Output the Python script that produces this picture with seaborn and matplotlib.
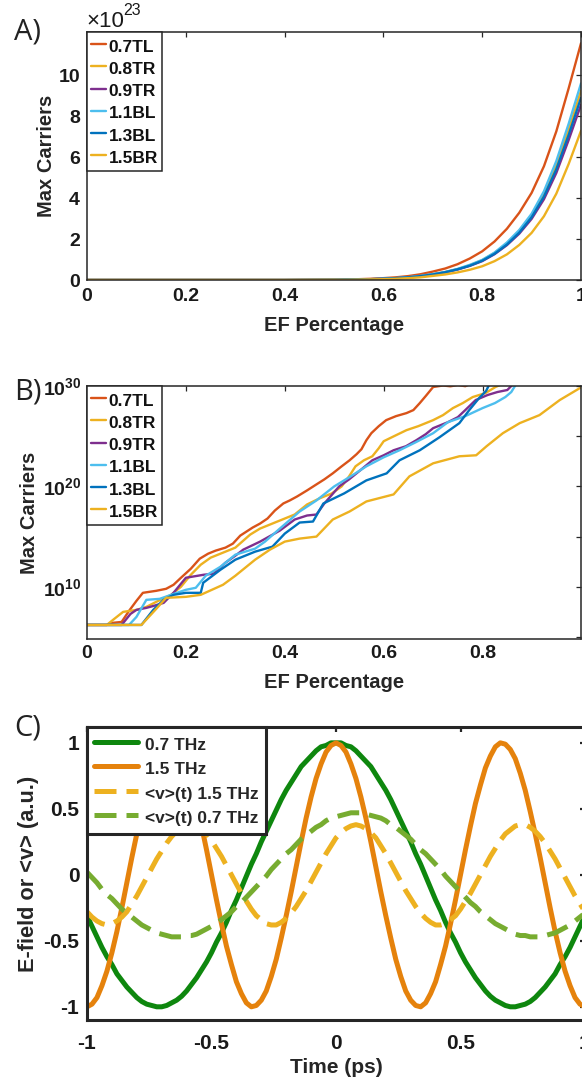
import numpy as np
import matplotlib
matplotlib.use("Agg")
import matplotlib.pyplot as plt
from matplotlib.ticker import NullLocator
import seaborn as sns

# ---------------- Panel A data (Max carriers, units of 1e23) ----------------
series_names = ["0.7TL", "0.8TR", "0.9TR", "1.1BL", "1.3BL", "1.5BR"]
series_colors = ["#D95319", "#EDB120", "#7E2F8E", "#4DBEEE", "#0072BD", "#EDB120"]

ef_a = [0.0, 0.1, 0.2, 0.3, 0.4, 0.5, 0.525, 0.55, 0.575, 0.6, 0.625, 0.65, 0.675,
        0.7, 0.725, 0.75, 0.775, 0.8, 0.825, 0.85, 0.875, 0.9, 0.925, 0.95, 0.975, 1.0]
a_07TL = [0, 0, 0, 0, 0, 0.02, 0.03, 0.04, 0.06, 0.09, 0.13, 0.19, 0.28, 0.41, 0.56,
          0.77, 1.05, 1.40, 1.88, 2.50, 3.28, 4.25, 5.55, 7.25, 9.35, 11.55]
a_08TR = [0, 0, 0, 0, 0, 0.01, 0.02, 0.03, 0.04, 0.06, 0.09, 0.13, 0.19, 0.28, 0.39,
          0.53, 0.72, 0.97, 1.32, 1.78, 2.38, 3.15, 4.19, 5.58, 7.34, 9.24]
a_09TR = [0, 0, 0, 0, 0, 0.01, 0.02, 0.03, 0.04, 0.06, 0.09, 0.13, 0.18, 0.27, 0.37,
          0.51, 0.69, 0.92, 1.26, 1.70, 2.26, 2.98, 3.94, 5.22, 6.83, 8.55]
a_11BL = [0, 0, 0, 0, 0, 0.01, 0.02, 0.03, 0.04, 0.06, 0.09, 0.13, 0.20, 0.29, 0.39,
          0.54, 0.74, 0.98, 1.34, 1.83, 2.44, 3.23, 4.33, 5.80, 7.62, 9.59]
a_13BL = [0, 0, 0, 0, 0, 0.01, 0.02, 0.03, 0.04, 0.06, 0.09, 0.13, 0.19, 0.27, 0.38,
          0.52, 0.70, 0.94, 1.28, 1.73, 2.31, 3.06, 4.07, 5.40, 7.08, 8.89]
a_15BR = [0, 0, 0, 0, 0, 0.01, 0.01, 0.02, 0.03, 0.04, 0.06, 0.09, 0.13, 0.20, 0.27,
          0.37, 0.50, 0.67, 0.92, 1.25, 1.71, 2.30, 3.11, 4.21, 5.66, 7.28]
a_values = [a_07TL, a_08TR, a_09TR, a_11BL, a_13BL, a_15BR]
a_yticks = [0, 2, 4, 6, 8, 10]
a_xticks = [0, 0.2, 0.4, 0.6, 0.8, 1.0]
a_xticklabels = ["0", "0.2", "0.4", "0.6", "0.8", "1"]

# ---------------- Panel B data (log10 of max carriers) ----------------
b_x_07TL = [0, 0.04, 0.05, 0.07, 0.085, 0.1, 0.113, 0.14, 0.16, 0.175, 0.19, 0.21, 0.228, 0.245,
            0.26, 0.28, 0.295, 0.31, 0.335, 0.35, 0.365, 0.38, 0.397, 0.41, 0.425, 0.445, 0.464,
            0.48, 0.497, 0.515, 0.531, 0.545, 0.555, 0.565, 0.575, 0.59, 0.605, 0.625, 0.646,
            0.66, 0.673, 0.685, 0.7, 0.72, 0.735, 0.75, 0.765, 0.775]
b_e_07TL = [6.2, 6.2, 6.4, 6.5, 7.6, 8.6, 9.4, 9.6, 9.8, 10.2, 10.9, 11.8, 12.8, 13.3,
            13.6, 13.9, 14.3, 15.1, 15.9, 16.3, 16.8, 17.6, 18.3, 18.6, 19.0, 19.6, 20.2,
            20.7, 21.3, 22.0, 22.6, 23.2, 23.7, 24.6, 25.3, 26.0, 26.6, 27.0, 27.3,
            27.6, 28.3, 29.0, 29.9, 30.05, 29.97, 30.1, 29.98, 30.2]
b_x_08TR = [0, 0.04, 0.055, 0.073, 0.1, 0.12, 0.14, 0.17, 0.19, 0.21, 0.23, 0.25, 0.27, 0.3,
            0.33, 0.35, 0.38, 0.42, 0.445, 0.47, 0.495, 0.515, 0.53, 0.543, 0.56, 0.577, 0.59,
            0.6, 0.625, 0.646, 0.67, 0.7, 0.72, 0.74, 0.76, 0.78, 0.806, 0.826, 0.84]
b_e_08TR = [6.2, 6.2, 6.8, 7.5, 7.7, 8.0, 8.5, 9.2, 10.0, 11.2, 12.2, 12.9, 13.3, 13.9,
            15.2, 15.8, 16.4, 17.2, 18.2, 18.8, 19.3, 20.0, 21.0, 22.0, 22.6, 23.0, 23.8,
            24.5, 25.1, 25.6, 26.0, 26.6, 27.1, 27.8, 28.3, 28.9, 29.3, 29.9, 30.2]
b_x_09TR = [0, 0.07, 0.088, 0.1, 0.12, 0.135, 0.155, 0.175, 0.2, 0.236, 0.256, 0.28, 0.3,
            0.316, 0.35, 0.39, 0.42, 0.445, 0.464, 0.48, 0.51, 0.53, 0.555, 0.577, 0.6, 0.62,
            0.645, 0.666, 0.685, 0.7, 0.73, 0.75, 0.765, 0.786, 0.81, 0.83, 0.85, 0.86]
b_e_09TR = [6.2, 6.2, 7.3, 7.7, 7.9, 8.1, 8.4, 9.4, 10.9, 11.2, 11.3, 12.4, 13.1,
            13.7, 14.5, 15.6, 16.7, 17.1, 17.2, 18.3, 20.0, 20.7, 21.7, 22.6, 23.1, 23.6,
            24.0, 24.6, 25.2, 25.8, 26.4, 26.9, 27.6, 28.6, 29.1, 29.4, 29.6, 30.1]
b_x_11BL = [0, 0.085, 0.1, 0.12, 0.147, 0.17, 0.2, 0.22, 0.24, 0.27, 0.3, 0.34, 0.36, 0.39,
            0.43, 0.464, 0.5, 0.53, 0.565, 0.6, 0.632, 0.665, 0.7, 0.73, 0.765, 0.8, 0.825,
            0.846, 0.858, 0.868]
b_e_11BL = [6.2, 6.2, 7.0, 8.7, 8.8, 9.2, 9.7, 9.9, 11.1, 12.0, 13.2, 13.8, 14.5, 15.8,
            17.5, 18.6, 20.0, 20.9, 22.0, 22.9, 23.6, 24.4, 25.3, 26.4, 27.0, 27.8, 28.3,
            28.9, 29.4, 30.2]
b_x_13BL = [0, 0.11, 0.134, 0.155, 0.175, 0.2, 0.23, 0.235, 0.27, 0.3, 0.34, 0.375, 0.4,
            0.43, 0.457, 0.478, 0.52, 0.565, 0.606, 0.632, 0.673, 0.713, 0.753, 0.773,
            0.793, 0.807, 0.815]
b_e_13BL = [6.2, 6.2, 7.7, 8.7, 9.2, 9.4, 9.4, 10.4, 11.7, 12.7, 13.5, 14.0, 15.3,
            16.4, 16.5, 18.3, 19.3, 20.6, 21.3, 22.6, 23.6, 24.9, 26.3, 27.6,
            28.8, 29.5, 30.3]
b_x_15BR = [0, 0.11, 0.14, 0.16, 0.2, 0.23, 0.275, 0.3, 0.34, 0.37, 0.4, 0.43, 0.464, 0.497,
            0.531, 0.565, 0.62, 0.652, 0.7, 0.753, 0.787, 0.808, 0.841, 0.875, 0.915, 0.956,
            0.997]
b_e_15BR = [6.2, 6.2, 7.8, 8.9, 9.0, 9.2, 10.2, 11.1, 12.7, 13.7, 14.5, 14.8, 15.0, 16.7,
            17.5, 18.5, 19.2, 21.0, 22.3, 23.0, 23.1, 24.0, 25.3, 26.3, 27.1, 28.6,
            29.8]
b_x = [b_x_07TL, b_x_08TR, b_x_09TR, b_x_11BL, b_x_13BL, b_x_15BR]
b_e = [b_e_07TL, b_e_08TR, b_e_09TR, b_e_11BL, b_e_13BL, b_e_15BR]
b_xticks = [0, 0.2, 0.4, 0.6, 0.8]
b_xticklabels = ["0", "0.2", "0.4", "0.6", "0.8"]
b_ytick_exps = [5, 10, 15, 20, 25, 30]
b_yticklabels = ["", r"$\mathrm{10^{10}}$", "", r"$\mathrm{10^{20}}$", "", r"$\mathrm{10^{30}}$"]

# ---------------- Panel C data ----------------
time_ps = [-1.00, -0.98, -0.96, -0.94, -0.92, -0.90, -0.88, -0.86, -0.84, -0.82, -0.80,
           -0.78, -0.76, -0.74, -0.72, -0.70, -0.68, -0.66, -0.64, -0.62, -0.60,
           -0.58, -0.56, -0.54, -0.52, -0.50, -0.48, -0.46, -0.44, -0.42, -0.40,
           -0.38, -0.36, -0.34, -0.32, -0.30, -0.28, -0.26, -0.24, -0.22, -0.20,
           -0.18, -0.16, -0.14, -0.12, -0.10, -0.08, -0.06, -0.04, -0.02, 0.00,
           0.02, 0.04, 0.06, 0.08, 0.10, 0.12, 0.14, 0.16, 0.18, 0.20,
           0.22, 0.24, 0.26, 0.28, 0.30, 0.32, 0.34, 0.36, 0.38, 0.40,
           0.42, 0.44, 0.46, 0.48, 0.50, 0.52, 0.54, 0.56, 0.58, 0.60,
           0.62, 0.64, 0.66, 0.68, 0.70, 0.72, 0.74, 0.76, 0.78, 0.80,
           0.82, 0.84, 0.86, 0.88, 0.90, 0.92, 0.94, 0.96, 0.98, 1.00]
field_07 = [-0.31, -0.39, -0.47, -0.55, -0.62, -0.68, -0.75, -0.80, -0.85, -0.89, -0.93,
            -0.96, -0.98, -0.99, -1.00, -1.00, -0.99, -0.97, -0.95, -0.92, -0.88,
            -0.83, -0.78, -0.72, -0.66, -0.59, -0.51, -0.44, -0.36, -0.27, -0.19,
            -0.10, -0.01, 0.08, 0.16, 0.25, 0.33, 0.41, 0.49, 0.57, 0.64,
            0.70, 0.76, 0.82, 0.86, 0.90, 0.94, 0.97, 0.98, 1.00, 1.00,
            1.00, 0.98, 0.97, 0.94, 0.90, 0.86, 0.82, 0.76, 0.70, 0.64,
            0.57, 0.49, 0.41, 0.33, 0.25, 0.16, 0.08, -0.01, -0.10, -0.19,
            -0.27, -0.36, -0.44, -0.51, -0.59, -0.66, -0.72, -0.78, -0.83, -0.88,
            -0.92, -0.95, -0.97, -0.99, -1.00, -1.00, -0.99, -0.98, -0.96, -0.93,
            -0.89, -0.85, -0.80, -0.75, -0.68, -0.62, -0.55, -0.47, -0.39, -0.31]
field_15 = [-1.00, -0.98, -0.93, -0.84, -0.73, -0.59, -0.43, -0.25, -0.06, 0.13, 0.31,
            0.48, 0.64, 0.77, 0.88, 0.95, 0.99, 1.00, 0.97, 0.90, 0.81,
            0.68, 0.54, 0.37, 0.19, 0.00, -0.19, -0.37, -0.54, -0.68, -0.81,
            -0.90, -0.97, -1.00, -0.99, -0.95, -0.88, -0.77, -0.64, -0.48, -0.31,
            -0.13, 0.06, 0.25, 0.43, 0.59, 0.73, 0.84, 0.93, 0.98, 1.00,
            0.98, 0.93, 0.84, 0.73, 0.59, 0.43, 0.25, 0.06, -0.13, -0.31,
            -0.48, -0.64, -0.77, -0.88, -0.95, -0.99, -1.00, -0.97, -0.90, -0.81,
            -0.68, -0.54, -0.37, -0.19, 0.00, 0.19, 0.37, 0.54, 0.68, 0.81,
            0.90, 0.97, 1.00, 0.99, 0.95, 0.88, 0.77, 0.64, 0.48, 0.31,
            0.13, -0.06, -0.25, -0.43, -0.59, -0.73, -0.84, -0.93, -0.98, -1.00]
vel_15 = [-0.28, -0.32, -0.35, -0.37, -0.38, -0.37, -0.35, -0.32, -0.28, -0.22, -0.16,
          -0.09, -0.02, 0.05, 0.12, 0.18, 0.24, 0.29, 0.33, 0.36, 0.38,
          0.38, 0.37, 0.34, 0.31, 0.26, 0.20, 0.14, 0.07, 0.00, -0.07,
          -0.14, -0.20, -0.26, -0.31, -0.34, -0.37, -0.38, -0.38, -0.36, -0.33,
          -0.29, -0.24, -0.18, -0.12, -0.05, 0.02, 0.09, 0.16, 0.22, 0.28,
          0.32, 0.35, 0.37, 0.38, 0.37, 0.35, 0.32, 0.28, 0.22, 0.16,
          0.09, 0.02, -0.05, -0.12, -0.18, -0.24, -0.29, -0.33, -0.36, -0.38,
          -0.38, -0.37, -0.34, -0.31, -0.26, -0.20, -0.14, -0.07, 0.00, 0.07,
          0.14, 0.20, 0.26, 0.31, 0.34, 0.37, 0.38, 0.38, 0.36, 0.33,
          0.29, 0.24, 0.18, 0.12, 0.05, -0.02, -0.09, -0.16, -0.22, -0.28]
vel_07 = [0.02, -0.02, -0.06, -0.11, -0.15, -0.18, -0.22, -0.26, -0.29, -0.32, -0.35,
          -0.38, -0.40, -0.42, -0.44, -0.45, -0.46, -0.47, -0.47, -0.47, -0.46,
          -0.46, -0.45, -0.43, -0.41, -0.39, -0.37, -0.34, -0.31, -0.28, -0.24,
          -0.21, -0.17, -0.13, -0.09, -0.05, -0.01, 0.04, 0.08, 0.12, 0.16,
          0.19, 0.23, 0.27, 0.30, 0.33, 0.36, 0.38, 0.41, 0.43, 0.44,
          0.45, 0.46, 0.47, 0.47, 0.47, 0.46, 0.45, 0.44, 0.43, 0.41,
          0.38, 0.36, 0.33, 0.30, 0.27, 0.23, 0.19, 0.16, 0.12, 0.08,
          0.04, -0.01, -0.05, -0.09, -0.13, -0.17, -0.21, -0.24, -0.28, -0.31,
          -0.34, -0.37, -0.39, -0.41, -0.43, -0.45, -0.46, -0.46, -0.47, -0.47,
          -0.47, -0.46, -0.45, -0.44, -0.42, -0.40, -0.38, -0.35, -0.32, -0.29]
c_series = [("0.7 THz", field_07, "#0E870E", "solid"),
            ("1.5 THz", field_15, "#E5820C", "solid"),
            ("<v>(t) 1.5 THz", vel_15, "#EDB120", "dash"),
            ("<v>(t) 0.7 THz", vel_07, "#77AC30", "dash")]
c_ticks = [-1, -0.5, 0, 0.5, 1]
c_ticklabels = ["-1", "-0.5", "0", "0.5", "1"]

# ---------------- style ----------------
sns.set_theme(style="white")
plt.rcParams["font.family"] = ["Liberation Sans", "DejaVu Sans"]
plt.rcParams["font.weight"] = "bold"
plt.rcParams["axes.labelweight"] = "bold"
plt.rcParams["axes.unicode_minus"] = False
plt.rcParams["mathtext.fontset"] = "custom"
plt.rcParams["mathtext.rm"] = "Liberation Sans:bold"
plt.rcParams["mathtext.bf"] = "Liberation Sans:bold"

EDGE = "#262626"
W, H = 582, 1087
fig = plt.figure(figsize=(W / 100, H / 100), dpi=100)
fig.patch.set_facecolor("white")


def axes_px(l, t, r, b):
    return fig.add_axes([l / W, 1 - b / H, (r - l) / W, (b - t) / H])


def style_axes(ax, spine_w, tick_len, tick_w, fs, padx, pady):
    for s in ax.spines.values():
        s.set_visible(True)
        s.set_linewidth(spine_w)
        s.set_color(EDGE)
    ax.tick_params(which="both", direction="in", top=True, right=True,
                   length=tick_len, width=tick_w, color=EDGE, labelcolor="#1a1a1a",
                   labelsize=fs)
    ax.tick_params(axis="x", pad=padx)
    ax.tick_params(axis="y", pad=pady)
    ax.grid(False)
    ax.set_facecolor("white")


axA = axes_px(87, 32, 581, 280)
axB = axes_px(87, 386, 581, 639)
axC = axes_px(87, 727, 585, 1020)

# ----- Panel A -----
for name, col, vals in zip(series_names, series_colors, a_values):
    sns.lineplot(x=ef_a, y=vals, ax=axA, color=col, linewidth=1.7, label=name)
axA.set_xlim(0, 1)
axA.set_ylim(0, 12.1)
axA.set_xticks(a_xticks)
axA.set_xticklabels(a_xticklabels)
axA.set_yticks(a_yticks)
axA.set_yticklabels([str(v) for v in a_yticks])
style_axes(axA, 1.1, 3.6, 0.9, 14, 6, 5)
axA.set_xlabel("EF Percentage", fontsize=14.5)
axA.set_ylabel("Max Carriers", fontsize=14.5)
axA.xaxis.set_label_coords(0.5, -0.145)
axA.yaxis.set_label_coords(-0.062, 0.5)
fig.text(86 / W, 1 - 27 / H, "×10", fontsize=16, fontweight="normal",
         ha="left", va="baseline", color="#1a1a1a")
fig.text(123 / W, 1 - 15 / H, "23", fontsize=11.5, fontweight="normal",
         ha="left", va="baseline", color="#1a1a1a")

# ----- Panel B -----
axB.set_yscale("log")
for name, col, xs, es in zip(series_names, series_colors, b_x, b_e):
    sns.lineplot(x=xs, y=10.0 ** np.array(es), ax=axB, color=col, linewidth=1.7,
                 label=name, sort=False)
axB.set_xlim(0, 0.999)
axB.set_ylim(10 ** 4.8, 1e30)
axB.set_xticks(b_xticks)
axB.set_xticklabels(b_xticklabels)
axB.set_yticks([10.0 ** e for e in b_ytick_exps])
axB.set_yticklabels(b_yticklabels)
axB.yaxis.set_minor_locator(NullLocator())
style_axes(axB, 1.1, 3.6, 0.9, 14, 4, 4)
axB.set_xlabel("EF Percentage", fontsize=14.5)
axB.set_ylabel("Max Carriers", fontsize=14.5)
axB.xaxis.set_label_coords(0.5, -0.134)
axB.yaxis.set_label_coords(-0.098, 0.5)

for ax in (axA, axB):
    leg = ax.legend(loc="upper left", bbox_to_anchor=(0, 1), borderaxespad=0,
                    frameon=True, fancybox=False, framealpha=1, edgecolor=EDGE,
                    prop={"weight": "bold", "size": 12.5}, handlelength=0.85,
                    handleheight=1.29, handletextpad=0.15, borderpad=0.25,
                    labelspacing=0.2)
    leg.get_frame().set_linewidth(1.1)
    for t in leg.get_texts():
        t.set_color("#111111")

# ----- Panel C -----
for name, vals, col, ls in c_series:
    sns.lineplot(x=time_ps, y=vals, ax=axC, color=col, linewidth=3.6, label=name,
                 sort=False)
    if ls == "dash":
        axC.lines[-1].set_dashes((4.4, 2.0))
axC.set_xlim(-1, 1)
axC.set_ylim(-1.1, 1.12)
axC.set_xticks(c_ticks)
axC.set_xticklabels(c_ticklabels)
axC.set_yticks(c_ticks)
axC.set_yticklabels(c_ticklabels)
style_axes(axC, 2.2, 3.6, 1.6, 15, 10, 5.5)
axC.set_xlabel("Time (ps)", fontsize=15)
axC.set_ylabel("E-field or <v> (a.u.)", fontsize=15.7)
axC.xaxis.set_label_coords(0.5, -0.13)
axC.yaxis.set_label_coords(-0.097, 0.5)
handles, labels = axC.get_legend_handles_labels()
for h, (_, _, _, ls) in zip(handles, c_series):
    if ls == "dash":
        h.set_dashes((4.4, 2.0))
legC = axC.legend(handles, labels, loc="upper left", bbox_to_anchor=(0, 1),
                  borderaxespad=0, frameon=True, fancybox=False, framealpha=1,
                  edgecolor=EDGE, prop={"weight": "bold", "size": 12.5},
                  handlelength=2.5, handleheight=1.4, handletextpad=0.4,
                  borderpad=0.42, labelspacing=0.24)
legC.get_frame().set_linewidth(2.2)

# ----- panel letters -----
for label, ypx in (("A)", 32), ("B)", 392), ("C)", 728)):
    fig.text(14 / W, 1 - ypx / H, label, fontsize=21, fontweight="normal",
             family=["Open Sans", "DejaVu Sans"], ha="left", va="center",
             color="#222222")

fig.savefig("out.png", dpi=100, facecolor="white")
